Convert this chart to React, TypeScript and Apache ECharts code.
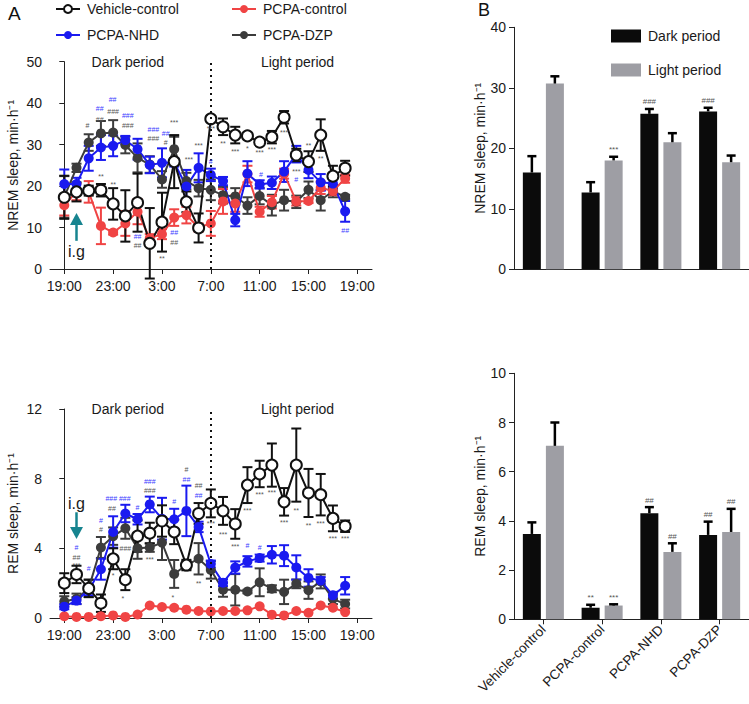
import React, { useEffect, useRef } from 'react';
import * as echarts from 'echarts';

const FONT = "'Liberation Sans', Arial, Helvetica, sans-serif";

// hours since 19:00 (one point per hour)
const hours = [0, 1, 2, 3, 4, 5, 6, 7, 8, 9, 10, 11, 12, 13, 14, 15, 16, 17, 18, 19, 20, 21, 22, 23];
const timeTicks = [0, 4, 8, 12, 16, 20, 24];
const timeLabels = ['19:00', '23:00', '3:00', '7:00', '11:00', '15:00', '19:00'];

// NREM (min/h)
const nremVehicle = [17.3, 18.6, 18.9, 19.0, 15.7, 12.8, 16.0, 6.2, 11.3, 25.9, 16.2, 9.9, 36.2, 34.3, 32.3, 32.1, 30.6, 31.8, 36.6, 27.5, 25.9, 32.3, 22.4, 24.3];
const nremVehicleErr = [5.2, 2.3, 1.2, 1.5, 3.8, 6.2, 7, 8.5, 7.1, 6.4, 2.5, 3.5, 0.5, 2, 2, 0.5, 0.5, 1.5, 1.5, 1.5, 2.5, 3.8, 2.5, 1.8];
const nremRed = [15.4, 18.6, 18.6, 10.4, 8.8, 11.0, 13.8, 7.4, 8.4, 12.4, 13.0, 10.0, 11.0, 16.3, 15.8, 22.9, 13.8, 16.1, 23.0, 16.3, 16.4, 19.6, 18.8, 21.8];
const nremRedErr = [2.5, 2, 2.6, 4.4, 0.5, 3, 3, 1, 1.2, 2, 2, 1, 3, 3, 2, 2, 1.2, 1.5, 1.2, 1, 0.5, 1.5, 1, 1];
const nremBlue = [20.5, 20.5, 26.7, 29.3, 29.7, 31.1, 28.9, 25.1, 25.6, 25.7, 19.9, 24.4, 22.7, 21.2, 11.8, 23.0, 20.4, 20.8, 23.5, 27.7, 23.9, 20.9, 20.6, 13.9];
const nremBlueErr = [3.5, 1.5, 3, 3, 2.5, 1, 2.5, 2, 3.5, 1, 4, 3.5, 1.5, 1, 1.5, 3, 1, 1.5, 2.5, 2, 2, 2, 1.2, 2.5];
const nremDZP = [17.4, 24.4, 30.5, 32.7, 32.9, 29.9, 26.8, 25.2, 21.6, 28.9, 21.2, 19.5, 19.1, 17.8, 17.5, 15.3, 17.6, 15.4, 16.6, 16.2, 19.1, 16.6, 18.8, 17.4];
const nremDZPErr = [5, 1, 2, 3, 3, 2, 3.5, 2, 2, 3, 2, 2, 2.5, 2, 2, 2, 2, 2.5, 2.5, 1.5, 2, 2.5, 1.5, 0.5];

// REM (min/h)
const remVehicle = [2.0, 2.5, 1.7, 0.85, 3.4, 2.2, 4.7, 4.87, 5.57, 4.94, 3.04, 6.0, 6.58, 6.15, 5.4, 7.63, 8.27, 8.78, 6.67, 8.78, 7.18, 7.08, 5.72, 5.27];
const remVehicleErr = [0.57, 0.5, 0.5, 0.5, 0.6, 0.6, 0.9, 0.6, 0.9, 0.7, 0.3, 0.6, 0.8, 0.8, 0.85, 1.03, 0.76, 1.24, 0.79, 2.1, 1.38, 1.19, 0.74, 0.33];
const remRed = [0.1, 0.06, 0.06, 0.1, 0.15, 0.06, 0.2, 0.72, 0.63, 0.59, 0.48, 0.4, 0.38, 0.4, 0.4, 0.44, 0.67, 0.19, 0.15, 0.4, 0.3, 0.72, 0.59, 0.34];
const remBlue = [0.65, 1.0, 1.6, 2.8, 4.94, 6.0, 5.67, 6.52, 5.7, 5.67, 6.15, 5.23, 3.1, 2.03, 2.9, 3.25, 3.44, 3.63, 3.58, 2.9, 2.3, 2.15, 1.3, 1.85];
const remBlueErr = [0.15, 0.2, 0.3, 0.6, 0.9, 0.5, 0.3, 0.45, 1.2, 0.6, 1.45, 0.3, 0.2, 0.2, 0.35, 0.3, 0.2, 0.5, 0.6, 0.7, 0.5, 0.2, 0.2, 0.5];
const remDZP = [0.95, 1.1, 1.7, 4.05, 4.7, 5.15, 4.0, 4.05, 4.33, 2.53, 3.04, 3.4, 2.76, 1.62, 1.62, 1.52, 2.05, 1.68, 1.5, 1.96, 1.6, 2.1, 1.1, 0.8];
const remDZPErr = [0.3, 0.3, 0.5, 0.6, 0.5, 0.6, 0.6, 0.25, 1.0, 0.8, 0.25, 0.9, 0.5, 0.4, 0.9, 0.1, 0.8, 0.2, 0.7, 0.25, 0.5, 0.4, 0.3, 0.25];
const remRedErr = remRed.map(() => 0);

// significance marks on the time courses: [hour, value, text]
const nremSigBlue: [number, number, string][] = [
  [2.9, 38.6, '##'], [3.95, 40.9, '##'], [5.2, 37.1, '###'], [7.3, 33.6, '###'], [8.3, 32.6, '##'],
  [12, 25.9, '#'], [6.0, 7.8, '##'], [9.0, 8.8, '##'], [16.1, 22.7, '#'], [19, 21.6, '#'], [23, 9.3, '##'],
];
const nremSigGrey: [number, number, string][] = [
  [1.9, 34.5, '#'], [2.9, 36.1, '##'], [4.0, 37.9, '###'], [5.2, 34.7, '###'], [7.3, 31.5, '###'],
  [8.3, 30.6, '#'], [9, 35.3, '***'], [10.2, 26.4, '***'], [11, 29.9, '***'], [12, 34.0, '***'],
  [3, 22.3, '**'], [4, 20.5, '**'], [6.0, 5.7, '##'], [9.0, 6.5, '##'], [8, 2.6, '**'],
  [13, 30.2, '**'], [14, 28.3, '***'], [15, 29.1, '*'], [16, 28.0, '***'], [17, 28.9, '***'],
  [18, 33.0, '***'], [19, 23.5, '***'], [20, 29.9, '**'], [21, 26.6, '**'],
];
const remSigBlue: [number, number, string][] = [
  [1, 4.05, '#'], [2, 2.85, '#'], [3, 5.6, '#'], [3.85, 6.84, '###'], [4.95, 6.84, '###'], [6, 6.33, '#'],
  [7, 7.85, '###'], [9, 6.67, '#'], [10, 7.95, '##'], [11, 7.05, '##'], [15, 4.15, '#'], [16, 4.07, '#'],
];
const remSigGrey: [number, number, string][] = [
  [1, 3.48, '##'], [1, 3.0, '***'], [3, 5.1, '#'], [3.9, 6.3, '##'], [5, 4.0, '###'], [4, 2.43, '*'],
  [4.8, 1.14, '*'], [7, 7.3, '###'], [7, 3.35, '***'], [8.9, 1.2, '*'], [10, 8.5, '#'], [11, 7.62, '##'],
  [11, 1.96, '**'], [12, 5.4, '***'], [13, 4.8, '***'], [14, 4.1, '***'], [15, 6.2, '***'], [16, 7.08, '***'],
  [17, 7.18, '***'], [18, 5.46, '***'], [19, 6.17, '**'], [20, 5.3, '**'], [21, 5.4, '***'], [22, 4.55, '***'],
  [23, 4.55, '***'],
];

// bar panels
const groups = ['Vehicle-control', 'PCPA-control', 'PCPA-NHD', 'PCPA-DZP'];
const nremDark = [16.0, 12.7, 25.7, 26.1];
const nremDarkErr = [2.7, 1.7, 0.8, 0.6];
const nremDarkSig = ['', '', '###', '###'];
const nremLight = [30.7, 18.0, 21.0, 17.7];
const nremLightErr = [1.2, 0.6, 1.5, 1.1];
const nremLightSig = ['', '***', '', ''];
const remDark = [3.47, 0.47, 4.31, 3.43];
const remDarkErr = [0.47, 0.12, 0.25, 0.54];
const remDarkSig = ['', '**', '##', '##'];
const remLight = [7.05, 0.56, 2.74, 3.55];
const remLightErr = [0.95, 0.05, 0.35, 0.94];
const remLightSig = ['', '***', '##', '##'];

const BLACK = '#111111';
const RED = '#f04444';
const BLUE = '#1a1af0';
const GREY = '#3c3c3c';
const DARKBAR = '#0b0b0b';
const LIGHTBAR = '#9e9ea4';
const TEAL = '#17848f';
const SIGBLUE = '#3a3aff';
const SIGGREY = '#555555';

function errSeries(idx: number, vals: number[], errs: number[], color: string) {
  return {
    type: 'custom',
    name: 'err' + idx + color,
    xAxisIndex: idx,
    yAxisIndex: idx,
    clip: false,
    silent: true,
    z: 3,
    data: hours.map((h, i) => [h, vals[i], errs[i]]),
    renderItem: (params: any, api: any) => {
      const x = api.value(0);
      const y = api.value(1);
      const e = api.value(2);
      if (!e) return { type: 'group', children: [] };
      const t = api.coord([x, y + e]);
      const b = api.coord([x, y - e]);
      const cw = 5;
      const st = { stroke: color, lineWidth: 2 };
      return {
        type: 'group',
        children: [
          { type: 'line', shape: { x1: t[0], y1: t[1], x2: b[0], y2: b[1] }, style: st },
          { type: 'line', shape: { x1: t[0] - cw, y1: t[1], x2: t[0] + cw, y2: t[1] }, style: st },
          { type: 'line', shape: { x1: b[0] - cw, y1: b[1], x2: b[0] + cw, y2: b[1] }, style: st },
        ],
      };
    },
  };
}

function lineSeries(idx: number, name: string, vals: number[], color: string, hollow: boolean, extra: any = {}) {
  return {
    type: 'line',
    name,
    xAxisIndex: idx,
    yAxisIndex: idx,
    data: hours.map((h, i) => [h, vals[i]]),
    symbol: 'circle',
    symbolSize: hollow ? 11 : 10,
    showAllSymbol: true,
    lineStyle: { color, width: 2 },
    itemStyle: hollow ? { color: '#ffffff', borderColor: color, borderWidth: 2 } : { color },
    z: 3,
    ...extra,
  };
}

function sigSeries(idx: number, marks: [number, number, string][], color: string) {
  return {
    type: 'custom',
    name: 'sig' + idx + color,
    xAxisIndex: idx,
    yAxisIndex: idx,
    clip: false,
    silent: true,
    z: 6,
    data: marks.map((m) => [m[0], m[1]]),
    renderItem: (params: any, api: any) => {
      const p = api.coord([api.value(0), api.value(1)]);
      return {
        type: 'text',
        x: p[0],
        y: p[1],
        style: {
          text: marks[params.dataIndex][2],
          fill: color,
          font: '7px ' + FONT,
          align: 'center',
          verticalAlign: 'middle',
        },
      };
    },
  };
}

function textSeries(idx: number, items: [number, number][], texts: string[]) {
  return {
    type: 'custom',
    name: 'txt' + idx,
    xAxisIndex: idx,
    yAxisIndex: idx,
    clip: false,
    silent: true,
    z: 6,
    data: items,
    renderItem: (params: any, api: any) => {
      const p = api.coord([api.value(0), api.value(1)]);
      return {
        type: 'text',
        x: p[0],
        y: p[1],
        style: {
          text: texts[params.dataIndex],
          fill: '#1a1a1a',
          font: '14px ' + FONT,
          align: 'center',
          verticalAlign: 'middle',
        },
      };
    },
  };
}

function arrowSeries(idx: number, arrow: number[]) {
  // [hour, tail value, tip value, label value]
  return {
    type: 'custom',
    name: 'arrow' + idx,
    xAxisIndex: idx,
    yAxisIndex: idx,
    clip: false,
    silent: true,
    z: 6,
    data: [arrow],
    renderItem: (params: any, api: any) => {
      const tail = api.coord([api.value(0), api.value(1)]);
      const tip = api.coord([api.value(0), api.value(2)]);
      const lab = api.coord([api.value(0), api.value(3)]);
      const dir = tip[1] < tail[1] ? -1 : 1;
      const headLen = 12;
      const hw = 6.5;
      const baseY = tip[1] - dir * headLen;
      return {
        type: 'group',
        children: [
          { type: 'line', shape: { x1: tail[0], y1: tail[1], x2: tail[0], y2: baseY }, style: { stroke: TEAL, lineWidth: 2.5 } },
          { type: 'polygon', shape: { points: [[tip[0], tip[1]], [tip[0] - hw, baseY], [tip[0] + hw, baseY]] }, style: { fill: TEAL } },
          { type: 'text', x: lab[0], y: lab[1], style: { text: 'i.g', fill: '#1a1a1a', font: '16px ' + FONT, align: 'center', verticalAlign: 'middle' } },
        ],
      };
    },
  };
}

function barSeries(idx: number, name: string, vals: number[], color: string) {
  return {
    type: 'bar',
    name,
    xAxisIndex: idx,
    yAxisIndex: idx,
    data: vals,
    barWidth: 18,
    barGap: '28%',
    itemStyle: { color },
    z: 2,
  };
}

function barErrSeries(idx: number, vals: number[], errs: number[], sig: string[], side: number) {
  return {
    type: 'custom',
    name: 'berr' + idx + side,
    xAxisIndex: idx,
    yAxisIndex: idx,
    clip: false,
    silent: true,
    z: 4,
    data: vals.map((v, i) => [i, v, errs[i]]),
    renderItem: (params: any, api: any) => {
      const i = api.value(0);
      const v = api.value(1);
      const e = api.value(2);
      const off = side * 11.5;
      const b = api.coord([i, v]);
      const t = api.coord([i, v + e]);
      const x = b[0] + off;
      const st = { stroke: '#000', lineWidth: 2.5 };
      const ch: any[] = [
        { type: 'line', shape: { x1: x, y1: b[1], x2: x, y2: t[1] }, style: st },
        { type: 'line', shape: { x1: x - 4.5, y1: t[1], x2: x + 4.5, y2: t[1] }, style: st },
      ];
      const s = sig[params.dataIndex];
      if (s) {
        ch.push({ type: 'text', x, y: t[1] - 7, style: { text: s, fill: SIGGREY, font: '8px ' + FONT, align: 'center', verticalAlign: 'middle' } });
      }
      return { type: 'group', children: ch };
    },
  };
}

const axisColor = '#222';
const tickLabelStyle = { fontSize: 14, color: '#1a1a1a', fontFamily: FONT };

function timeAxis(g: number) {
  return {
    type: 'value',
    gridIndex: g,
    min: -1.17,
    max: 25.2,
    axisLine: { show: true, onZero: false, lineStyle: { color: axisColor, width: 1 } },
    axisTick: { show: true, customValues: timeTicks, length: 5, lineStyle: { color: axisColor } },
    axisLabel: {
      ...tickLabelStyle,
      customValues: timeTicks,
      margin: 10,
      formatter: (v: number) => timeLabels[timeTicks.indexOf(Math.round(v))] ?? '',
    },
    splitLine: { show: false },
  };
}

function valAxis(g: number, max: number, interval: number, name: string, nameGap: number) {
  return {
    type: 'value',
    gridIndex: g,
    min: 0,
    max,
    interval,
    name,
    nameLocation: 'middle',
    nameGap,
    nameTextStyle: { fontSize: 14, color: '#1a1a1a', fontFamily: FONT },
    axisLine: { show: true, lineStyle: { color: axisColor, width: 1 } },
    axisTick: { show: true, length: 5, lineStyle: { color: axisColor } },
    axisLabel: { ...tickLabelStyle, margin: 8 },
    splitLine: { show: false },
  };
}

function buildOption() {
  const series: any[] = [];
  const sets = [
    { idx: 0, v: nremVehicle, ve: nremVehicleErr, r: nremRed, re: nremRedErr, b: nremBlue, be: nremBlueErr, d: nremDZP, de: nremDZPErr },
    { idx: 1, v: remVehicle, ve: remVehicleErr, r: remRed, re: remRedErr, b: remBlue, be: remBlueErr, d: remDZP, de: remDZPErr },
  ];
  for (const s of sets) {
    series.push(errSeries(s.idx, s.d, s.de, GREY));
    series.push(lineSeries(s.idx, 'PCPA-DZP', s.d, GREY, false));
    series.push(errSeries(s.idx, s.r, s.re, RED));
    series.push(lineSeries(s.idx, 'PCPA-control', s.r, RED, false));
    series.push(errSeries(s.idx, s.b, s.be, BLUE));
    series.push(lineSeries(s.idx, 'PCPA-NHD', s.b, BLUE, false));
    series.push(errSeries(s.idx, s.v, s.ve, BLACK));
    series.push(
      lineSeries(s.idx, 'Vehicle-control', s.v, BLACK, true, {
        markLine: {
          silent: true,
          symbol: ['none', 'none'],
          label: { show: false },
          lineStyle: { type: [2, 4], color: '#111', width: 2 },
          data: [{ xAxis: 12 }],
        },
      })
    );
  }
  series.push(sigSeries(0, nremSigBlue, SIGBLUE));
  series.push(sigSeries(0, nremSigGrey, SIGGREY));
  series.push(sigSeries(1, remSigBlue, SIGBLUE));
  series.push(sigSeries(1, remSigGrey, SIGGREY));
  series.push(textSeries(0, [[5.2, 50], [19.1, 50]], ['Dark period', 'Light period']));
  series.push(textSeries(1, [[5.2, 12], [19.1, 12]], ['Dark period', 'Light period']));
  series.push(arrowSeries(0, [1, 6.8, 13.5, 4.2]));
  series.push(arrowSeries(1, [1, 6.07, 4.53, 6.56]));

  series.push(barSeries(2, 'Dark period', nremDark, DARKBAR));
  series.push(barSeries(2, 'Light period', nremLight, LIGHTBAR));
  series.push(barErrSeries(2, nremDark, nremDarkErr, nremDarkSig, -1));
  series.push(barErrSeries(2, nremLight, nremLightErr, nremLightSig, 1));
  series.push(barSeries(3, 'Dark period', remDark, DARKBAR));
  series.push(barSeries(3, 'Light period', remLight, LIGHTBAR));
  series.push(barErrSeries(3, remDark, remDarkErr, remDarkSig, -1));
  series.push(barErrSeries(3, remLight, remLightErr, remLightSig, 1));

  const legendText = { fontSize: 14, color: '#1a1a1a', fontFamily: FONT, padding: [0, 0, 0, 2] };

  return {
    animation: false,
    backgroundColor: '#ffffff',
    textStyle: { fontFamily: FONT },
    grid: [
      { left: 50, top: 61.7, width: 322, height: 207.3 },
      { left: 50, top: 409, width: 322, height: 209 },
      { left: 514, top: 27.3, width: 235, height: 242 },
      { left: 514, top: 373.3, width: 235, height: 246 },
    ],
    legend: [
      {
        data: ['Vehicle-control', 'PCPA-NHD'],
        orient: 'vertical',
        left: 50,
        top: -3,
        itemWidth: 24,
        itemHeight: 10,
        itemGap: 12,
        textStyle: legendText,
        selectedMode: false,
      },
      {
        data: ['PCPA-control', 'PCPA-DZP'],
        orient: 'vertical',
        left: 226,
        top: -3,
        itemWidth: 24,
        itemHeight: 10,
        itemGap: 12,
        textStyle: legendText,
        selectedMode: false,
      },
      {
        data: ['Dark period', 'Light period'],
        orient: 'vertical',
        left: 606,
        top: 24,
        icon: 'rect',
        itemWidth: 30,
        itemHeight: 13,
        itemGap: 20,
        textStyle: legendText,
        selectedMode: false,
      },
    ],
    xAxis: [
      timeAxis(0),
      timeAxis(1),
      {
        type: 'category',
        gridIndex: 2,
        data: groups,
        axisLine: { show: true, lineStyle: { color: axisColor } },
        axisTick: { show: false },
        axisLabel: { show: false },
      },
      {
        type: 'category',
        gridIndex: 3,
        data: groups,
        axisLine: { show: true, lineStyle: { color: axisColor } },
        axisTick: { show: true, alignWithLabel: true, length: 5, lineStyle: { color: axisColor } },
        axisLabel: { show: true, rotate: 45, interval: 0, fontSize: 13.5, color: '#1a1a1a', fontFamily: FONT, margin: 8 },
      },
    ],
    yAxis: [
      valAxis(0, 50, 10, 'NREM sleep, min·h⁻¹', 30),
      valAxis(1, 12, 4, 'REM sleep, min·h⁻¹', 30),
      valAxis(2, 40, 10, 'NREM sleep, min·h⁻¹', 27),
      valAxis(3, 10, 2, 'REM sleep, min·h⁻¹', 27),
    ],
    graphic: [
      { type: 'text', left: 8, top: 4, style: { text: 'A', font: '19px ' + FONT, fill: '#111' } },
      { type: 'text', left: 478, top: 1, style: { text: 'B', font: '18px ' + FONT, fill: '#111' } },
    ],
    series,
  };
}

export default function App() {
  const ref = useRef<HTMLDivElement>(null);
  useEffect(() => {
    const chart = echarts.init(ref.current!, null, { renderer: 'svg' });
    chart.setOption(buildOption() as any);
    return () => chart.dispose();
  }, []);
  return (
    <div
      ref={ref}
      style={{ position: 'fixed', left: 0, top: 0, width: 749, height: 704, background: '#fff' }}
    />
  );
}
